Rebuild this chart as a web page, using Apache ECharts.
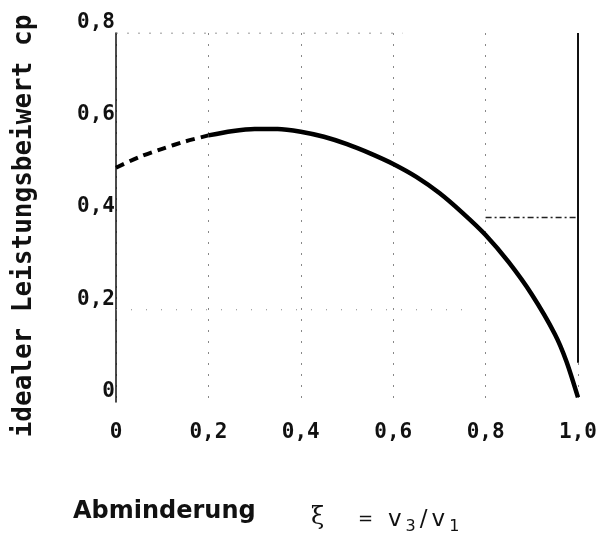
<!DOCTYPE html>
<html>
<head>
<meta charset="utf-8">
<script src="https://cdn.jsdelivr.net/npm/echarts@6/dist/echarts.min.js"></script>
<style>html,body{margin:0;padding:0;background:#fff;}#c{width:608px;height:543px;}</style>
</head>
<body>
<div id="c"></div>
<script>
// Abminderung xi (x) and idealer Leistungsbeiwert cp (y)
var xiDashed = [0, 0.05, 0.1, 0.15, 0.2];
var cpDashed = [0.508, 0.531, 0.549, 0.565, 0.578];
var xiSolid = [0.2, 0.25, 0.3, 0.35, 0.4, 0.45, 0.5, 0.55, 0.6, 0.65, 0.7, 0.75, 0.8, 0.85, 0.9, 0.95, 0.975, 1.0];
var cpSolid = [0.578, 0.587, 0.592, 0.592, 0.586, 0.575, 0.559, 0.539, 0.516, 0.488, 0.453, 0.41, 0.362, 0.303, 0.233, 0.147, 0.088, 0.01];
// reference lines
var rightLineX = [1.0, 1.0];
var rightLineY = [0.8, 0.085];
var midLineX = [0.8, 1.0];
var midLineY = [0.4, 0.4];
var topDotX = [0, 0.62];
var topDotY = [0.8, 0.8];
var lowDotX = [0, 0.75];
var lowDotY = [0.2, 0.2];
// tick labels
var xTicks = [0, 0.2, 0.4, 0.6, 0.8, 1.0];
var xTickLabels = ['0', '0,2', '0,4', '0,6', '0,8', '1,0'];
var yTicks = [0, 0.2, 0.4, 0.6, 0.8];
var yTickLabels = ['0', '0,2', '0,4', '0,6', '0,8'];
var yTitle = 'idealer Leistungsbeiwert cp';
var xTitleWord = 'Abminderung';
var xTitleSym = 'ξ';
var xTitleEq = '=';
var xTitleRatio = '{v|v}{s|3}{v|/}{v|v}{s|1}';

function zip(a, b) { return a.map(function (v, i) { return [v, b[i]]; }); }
function lab(ticks, labels) {
  return function (v) {
    for (var i = 0; i < ticks.length; i++) if (Math.abs(ticks[i] - v) < 1e-6) return labels[i];
    return '';
  };
}
var tickFont = { fontFamily: 'DejaVu Sans Mono', fontWeight: 'bold', fontSize: 21, color: '#111' };

var chart = echarts.init(document.getElementById('c'), null, { renderer: 'canvas' });
chart.setOption({
  backgroundColor: '#fff',
  animation: false,
  grid: { left: 116, right: 30, top: 33, bottom: 141, containLabel: false },
  xAxis: {
    type: 'value', min: 0, max: 1, interval: 0.2,
    axisLine: { show: false }, axisTick: { show: false },
    axisLabel: Object.assign({ margin: 20, formatter: lab(xTicks, xTickLabels) }, tickFont),
    splitLine: { show: true, lineStyle: { color: '#888', width: 1, type: [2, 9] } }
  },
  yAxis: {
    type: 'value', min: 0, max: 0.8, interval: 0.2,
    axisLine: { show: true, onZero: false, lineStyle: { color: '#111', width: 1.5 } },
    axisTick: { show: false },
    axisLabel: Object.assign({ margin: 1, verticalAlign: 'bottom', formatter: lab(yTicks, yTickLabels) }, tickFont),
    splitLine: { show: false }
  },
  graphic: [
    { type: 'text', x: 24, y: 226, rotation: Math.PI / 2,
      style: { text: yTitle, font: 'bold 26px "DejaVu Sans Mono"', fill: '#111', align: 'center', verticalAlign: 'middle', textAlign: 'center', textVerticalAlign: 'middle' } },
    { type: 'text', x: 73, y: 512,
      style: { text: xTitleWord, font: 'bold 24px "DejaVu Sans"', fill: '#111', align: 'left', verticalAlign: 'middle', textAlign: 'left', textVerticalAlign: 'middle' } },
    { type: 'text', x: 311, y: 518,
      style: { text: xTitleSym, font: '24px "DejaVu Serif"', fill: '#111', align: 'left', verticalAlign: 'middle', textAlign: 'left', textVerticalAlign: 'middle' } },
    { type: 'text', x: 358, y: 519,
      style: { text: xTitleEq, font: '18px "DejaVu Sans"', fill: '#111', align: 'left', verticalAlign: 'middle', textAlign: 'left', textVerticalAlign: 'middle' } },
    { type: 'text', x: 388, y: 520,
      style: { text: xTitleRatio, fill: '#111', align: 'left', verticalAlign: 'middle', textAlign: 'left', textVerticalAlign: 'middle',
        rich: {
          v: { fontFamily: 'DejaVu Sans', fontSize: 23, fill: '#111', padding: [0, 4, 0, 0] },
          s: { fontFamily: 'DejaVu Sans', fontSize: 16, fill: '#111', verticalAlign: 'bottom', padding: [14, 4, 0, 0] }
        } } }
  ],
  series: [
    { type: 'line', data: zip(topDotX, topDotY), symbol: 'none', silent: true,
      lineStyle: { color: '#777', width: 1, type: [2, 9] } },
    { type: 'line', data: zip(lowDotX, lowDotY), symbol: 'none', silent: true,
      lineStyle: { color: '#888', width: 1, type: [1, 14] } },
    { type: 'line', data: zip(midLineX, midLineY), symbol: 'none', silent: true,
      lineStyle: { color: '#222', width: 1.5, type: [6, 3, 2, 3] } },
    { type: 'line', data: zip(rightLineX, rightLineY), symbol: 'none', silent: true,
      lineStyle: { color: '#111', width: 2 } },
    { type: 'line', data: zip(xiDashed, cpDashed), symbol: 'none', smooth: 0.25,
      lineStyle: { color: '#000', width: 4, type: [9, 6] } },
    { type: 'line', data: zip(xiSolid, cpSolid), symbol: 'none', smooth: 0.25,
      lineStyle: { color: '#000', width: 4.5 } }
  ]
});
</script>
</body>
</html>
